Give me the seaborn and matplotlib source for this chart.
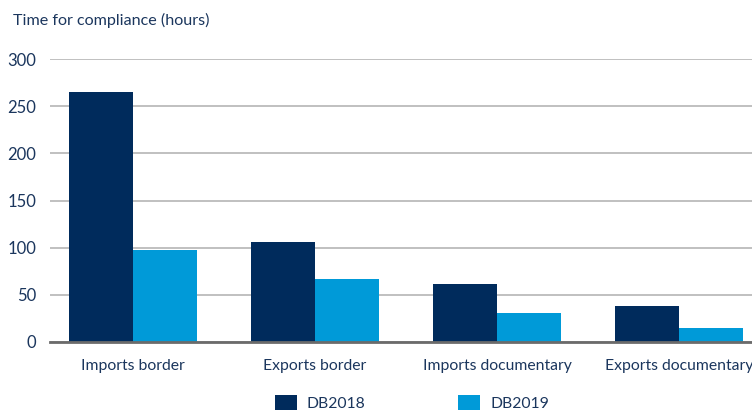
import pandas as pd
import seaborn as sns
from matplotlib import pyplot as plt
from matplotlib.patches import Patch

categories = ['Imports border', 'Exports border', 'Imports documentary', 'Exports documentary']
db2018 = [265, 106, 61, 38]
db2019 = [97, 67, 31, 15]
series = ['DB2018', 'DB2019']
colors = ['#002b5c', '#009ad8']
y_ticks = [0, 50, 100, 150, 200, 250, 300]

text_color = '#1b365d'

df = pd.DataFrame({
    'Category': categories * 2,
    'Hours': db2018 + db2019,
    'Edition': [series[0]] * len(categories) + [series[1]] * len(categories),
})

sns.set_style('white')
plt.rcParams['font.family'] = ['Lato', 'DejaVu Sans']

fig = plt.figure(figsize=(7.52, 4.13), dpi=100)
ax = fig.add_axes([50 / 752, 71 / 413, 702 / 752, 283 / 413])

sns.barplot(data=df, x='Category', y='Hours', hue='Edition',
            palette=colors, width=0.7, saturation=1, linewidth=0,
            ax=ax, legend=False)

ax.set_ylim(0, 300)
ax.set_xlim(-0.456, 3.401)
ax.set_yticks(y_ticks)
ax.yaxis.grid(True, color='#b5b5b5', linewidth=1.2)
ax.set_axisbelow(True)
for s in ['top', 'right', 'left']:
    ax.spines[s].set_visible(False)
ax.spines['bottom'].set_color('#6b6b6b')
ax.spines['bottom'].set_linewidth(2)
ax.spines['bottom'].set_zorder(5)
ax.tick_params(axis='both', length=0, colors=text_color)
ax.tick_params(axis='y', pad=10, labelsize=12)
ax.tick_params(axis='x', pad=12, labelsize=11.3)
ax.set_xlabel('')
ax.set_ylabel('')

fig.text(13 / 752, 1 - 20 / 413, 'Time for compliance (hours)', fontsize=11.6,
         color=text_color, va='center', ha='left')

handles = [Patch(facecolor=c, edgecolor='none') for c in colors]
fig.legend(handles, series, loc='center', bbox_to_anchor=(412 / 752, 1 - 403 / 413),
           ncol=2, frameon=False, fontsize=11.3, labelcolor=text_color,
           handlelength=1.4, handleheight=1.1, handletextpad=0.65,
           columnspacing=5.9, borderpad=0, borderaxespad=0)

fig.savefig('out.png', dpi=100)
